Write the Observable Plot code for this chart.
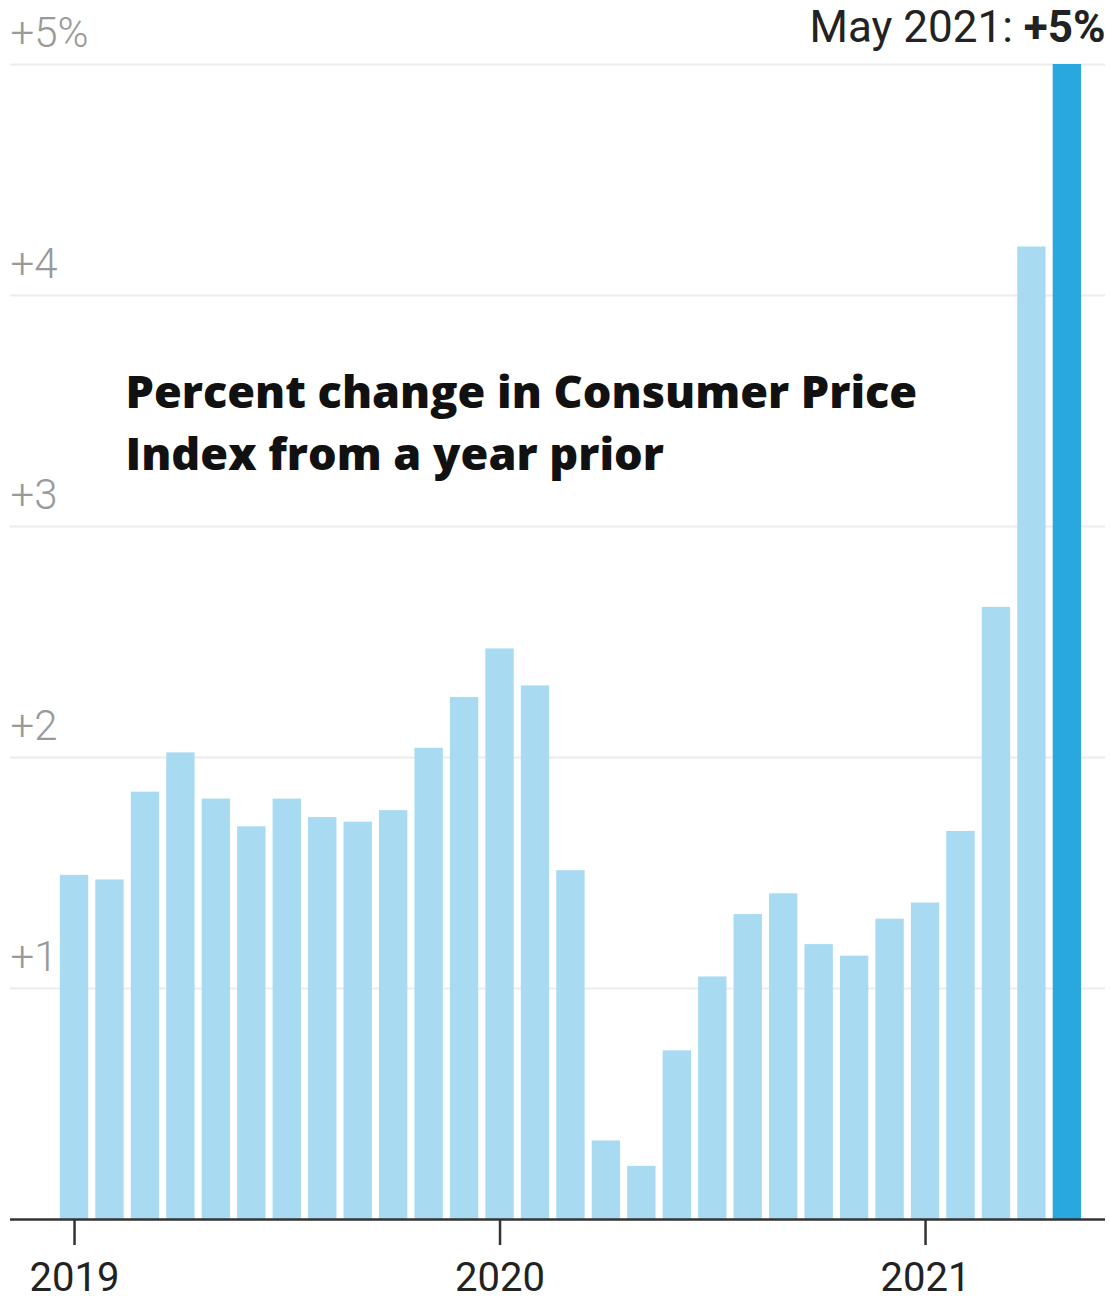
<!DOCTYPE html>
<html>
<head>
<meta charset="utf-8">
<script src="https://cdn.jsdelivr.net/npm/d3@7"></script>
<script src="https://cdn.jsdelivr.net/npm/@observablehq/plot@0.6"></script>
<style>
  html, body { margin: 0; padding: 0; background: #fff; }
  #chart svg { display: block; }
</style>
</head>
<body>
<div id="chart"></div>
<script>
// ---- data ----
const months = [
  "2019-01","2019-02","2019-03","2019-04","2019-05","2019-06","2019-07","2019-08","2019-09","2019-10","2019-11","2019-12",
  "2020-01","2020-02","2020-03","2020-04","2020-05","2020-06","2020-07","2020-08","2020-09","2020-10","2020-11","2020-12",
  "2021-01","2021-02","2021-03","2021-04","2021-05"
];
const values = [
  1.49, 1.47, 1.85, 2.02, 1.82, 1.70, 1.82, 1.74, 1.72, 1.77, 2.04, 2.26,
  2.47, 2.31, 1.51, 0.34, 0.23, 0.73, 1.05, 1.32, 1.41, 1.19, 1.14, 1.30,
  1.37, 1.68, 2.65, 4.21, 5.00
];
const highlight = "2021-05";
const yTicks = [1, 2, 3, 4, 5];
const yTickLabels = ["+1", "+2", "+3", "+4", "+5%"];
const yearTicks = ["2019-01", "2020-01", "2021-01"];
const yearLabels = ["2019", "2020", "2021"];
const titleLines = ["Percent change in Consumer Price", "Index from a year prior"];
const annotationParts = ["May 2021: ", "+5%"];

// ---- styles ----
const LIGHT = "#a8dbf1";
const DARK = "#29a8e0";
const GRID = "#ececec";
const AXIS = "#333333";

function fontExists(f) {
  const c = document.createElement("canvas").getContext("2d");
  const s = "Percent change in Consumer Price 2019";
  c.font = "bold 40px monospace";
  const a = c.measureText(s).width;
  c.font = `bold 40px "${f}", monospace`;
  const b = c.measureText(s).width;
  return Math.abs(a - b) > 0.5;
}
const titleFamily = ["Open Sans", "Inter", "Liberation Sans", "DejaVu Sans"].find(fontExists) || "sans-serif";
const labelFamily = ["Roboto", "Lato", "Liberation Sans"].find(fontExists) || "sans-serif";

// size the title font so the first line spans ~792px like the reference
function measure(text, font) {
  const c = document.createElement("canvas").getContext("2d");
  c.font = font;
  return c.measureText(text).width;
}
const w42 = measure(titleLines[0], `800 42px "${titleFamily}"`);
const titleSize = Math.max(34, Math.min(50, 42 * 792 / w42));

const data = months.map((m, i) => ({month: m, value: values[i], hi: m === highlight}));

const plot = Plot.plot({
  width: 1110,
  height: 1300,
  marginTop: 64,
  marginBottom: 81,
  marginLeft: 10,
  marginRight: 5,
  style: {fontFamily: `"${labelFamily}", sans-serif`, background: "#fff", overflow: "visible"},
  x: {type: "band", domain: months, range: [56.3, 1084.6], paddingInner: 0.2, paddingOuter: 0.1, round: false, axis: null},
  y: {domain: [0, 5], axis: null},
  marks: [
    Plot.gridY(yTicks, {stroke: GRID, strokeOpacity: 1, strokeWidth: 2}),
    Plot.barY(data, {filter: d => !d.hi, x: "month", y: "value", fill: LIGHT}),
    Plot.barY(data, {filter: d => d.hi, x: "month", y: "value", fill: DARK}),
    Plot.ruleY([0], {stroke: AXIS, strokeWidth: 2.5}),
    Plot.ruleX(yearTicks, {x: d => d, y1: 0, y2: 0, insetBottom: -26, stroke: AXIS, strokeWidth: 2.5}),
    Plot.text(yearTicks, {
      x: d => d, y: 0, dy: 59, text: (d, i) => yearLabels[i],
      lineAnchor: "middle", fontSize: 40, fill: "#222"
    }),
    Plot.text(yTicks, {
      y: d => d, frameAnchor: "left", textAnchor: "start", lineAnchor: "middle", dy: -31,
      text: (d, i) => yTickLabels[i], fontSize: 42, fontWeight: 300, fill: "#999"
    }),
    Plot.text([titleLines.join("\n")], {
      frameAnchor: "top-left", textAnchor: "start", lineAnchor: "top",
      dx: 115, dy: 299, lineHeight: 62 / titleSize,
      fontFamily: `"${titleFamily}", sans-serif`, fontWeight: 800, fontSize: titleSize, fill: "#111"
    }),
    Plot.text([annotationParts.join("")], {
      frameAnchor: "top-right", textAnchor: "end", lineAnchor: "middle", dy: -37,
      fontSize: 44, fill: "#222"
    })
  ]
});

// make "+5%" bold within the annotation (keeps real text)
plot.querySelectorAll("text").forEach(t => {
  if (t.textContent === annotationParts.join("")) {
    while (t.firstChild) t.removeChild(t.firstChild);
    const ns = "http://www.w3.org/2000/svg";
    const a = document.createElementNS(ns, "tspan");
    a.textContent = annotationParts[0];
    const b = document.createElementNS(ns, "tspan");
    b.textContent = annotationParts[1];
    b.setAttribute("font-weight", "bold");
    t.setAttribute("xml:space", "preserve");
    t.style.whiteSpace = "pre";
    t.appendChild(a);
    t.appendChild(b);
  }
});

document.getElementById("chart").appendChild(plot);
</script>
</body>
</html>
